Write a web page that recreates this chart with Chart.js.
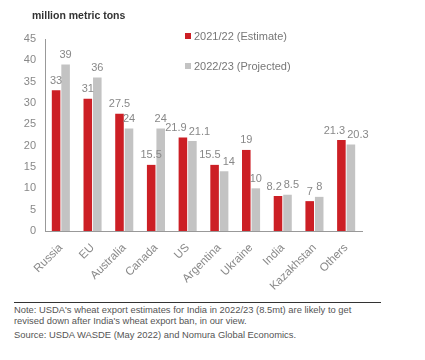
<!DOCTYPE html>
<html><head><meta charset="utf-8">
<script src="https://cdn.jsdelivr.net/npm/chart.js@4.4.1/dist/chart.umd.min.js"></script>
<style>
body{margin:0;background:#fff;width:425px;height:360px;overflow:hidden;font-family:"Liberation Sans",Arial,sans-serif;position:relative}
#title{position:absolute;left:32px;top:9px;font-size:10.5px;color:#333;font-weight:600}
#wrap{position:absolute;left:0;top:0;width:425px;height:290px}
.leg{position:absolute;left:185px;font-size:11px;color:#777;white-space:nowrap}
.leg span{display:inline-block;width:6px;height:6px;margin-right:3px;vertical-align:1px}
#rule{position:absolute;left:14px;top:302px;width:367px;height:1px;background:#333}
#note{position:absolute;left:14px;top:304px;font-size:9.4px;line-height:11px;color:#555;width:362px}
#src{margin-top:3px}
</style></head><body>
<div id="wrap"><canvas id="c"></canvas></div>
<div id="title">million metric tons</div>
<div class="leg" style="top:30px"><span style="background:#cc1f25"></span>2021/22 (Estimate)</div>
<div class="leg" style="top:60px"><span style="background:#c3c3c3"></span>2022/23 (Projected)</div>
<div id="rule"></div>
<div id="note">Note: USDA's wheat export estimates for India in 2022/23 (8.5mt) are likely to get revised down after India's wheat export ban, in our view.<div id="src">Source: USDA WASDE (May 2022) and Nomura Global Economics.</div></div>
<script>
const categories = ["Russia","EU","Australia","Canada","US","Argentina","Ukraine","India","Kazakhstan","Others"];
const estimate2122 = [33,31,27.5,15.5,21.9,15.5,19,8.2,7,21.3];
const projected2223 = [39,36,24,24,21.1,14,10,8.5,8,20.3];
const yTicks = [0,5,10,15,20,25,30,35,40,45];

const labelPlugin = {
  id:'vals',
  afterDatasetsDraw(chart){
    const ctx = chart.ctx;
    ctx.save();
    ctx.font = '11px "Liberation Sans", Arial, sans-serif';
    ctx.fillStyle = '#888';
    ctx.textAlign = 'center';
    ctx.textBaseline = 'bottom';
    const m0 = chart.getDatasetMeta(0).data, m1 = chart.getDatasetMeta(1).data;
    const d0 = chart.data.datasets[0].data, d1 = chart.data.datasets[1].data;
    m0.forEach((a,j)=>{
      const b = m1[j];
      const t0 = String(d0[j]), t1 = String(d1[j]);
      let x0 = a.x, x1 = b.x;
      const y0 = a.y - 4, y1 = b.y - 4;
      const w0 = ctx.measureText(t0).width, w1 = ctx.measureText(t1).width;
      if (Math.abs(y0 - y1) < 12) {
        const need = (w0 + w1) / 2 + 2 - (x1 - x0);
        if (need > 0) { x0 -= need / 2; x1 += need / 2; }
      }
      ctx.fillText(t0, x0, y0);
      ctx.fillText(t1, x1, y1);
    });
    ctx.restore();
  }
};

new Chart(document.getElementById('c'),{
  type:'bar',
  data:{labels:categories,datasets:[
    {label:'2021/22 (Estimate)',data:estimate2122,backgroundColor:'#cc1f25',barPercentage:0.9,categoryPercentage:0.6},
    {label:'2022/23 (Projected)',data:projected2223,backgroundColor:'#c3c3c3',barPercentage:0.9,categoryPercentage:0.6}
  ]},
  options:{
    responsive:true,maintainAspectRatio:false,animation:false,
    layout:{padding:{left:0,right:63,top:39,bottom:0}},
    plugins:{legend:{display:false},tooltip:{enabled:false}},
    scales:{
      x:{grid:{display:false},border:{display:true,color:'#999'},
         ticks:{color:'#888',font:{size:11.5,family:'"Liberation Sans", Arial, sans-serif'},minRotation:45,maxRotation:45,padding:2},
         afterFit(s){s.height=59;}},
      y:{min:0,max:45,grid:{display:false,drawTicks:false},border:{display:true,color:'#999'},
         afterBuildTicks(s){s.ticks=yTicks.map(v=>({value:v}));},
         ticks:{color:'#888',font:{size:11,family:'"Liberation Sans", Arial, sans-serif'},padding:9},
         afterFit(s){s.width=45;}}
    }
  },
  plugins:[labelPlugin]
});
</script>
</body></html>
